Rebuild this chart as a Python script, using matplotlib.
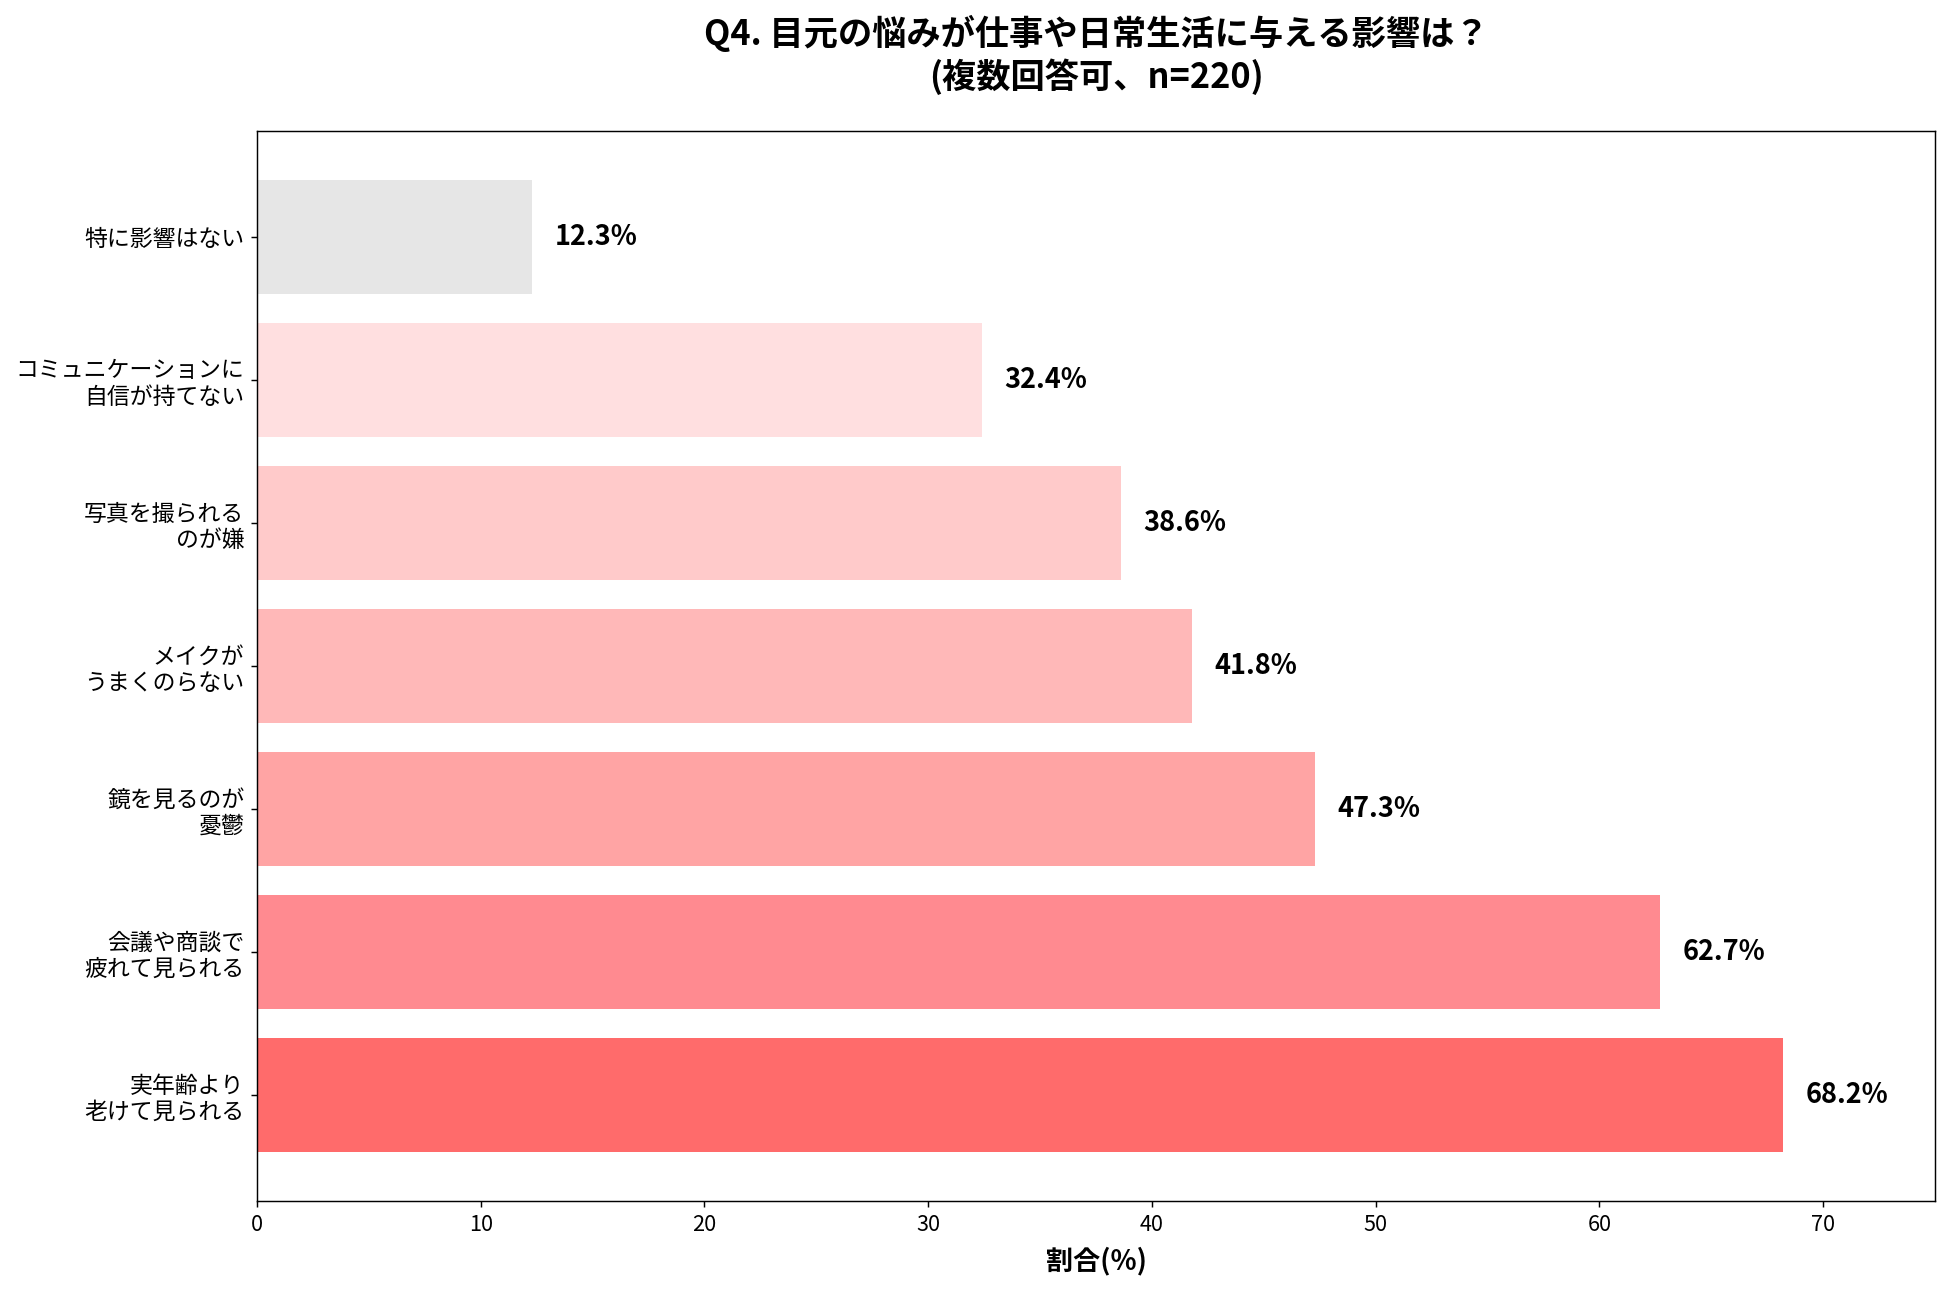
import matplotlib
matplotlib.use("Agg")
import matplotlib.pyplot as plt

plt.rcParams['font.family'] = ['Noto Sans CJK JP', 'DejaVu Sans']

categories = [
    "実年齢より\n老けて見られる",
    "会議や商談で\n疲れて見られる",
    "鏡を見るのが\n憂鬱",
    "メイクが\nうまくのらない",
    "写真を撮られる\nのが嫌",
    "コミュニケーションに\n自信が持てない",
    "特に影響はない",
]
values = [68.2, 62.7, 47.3, 41.8, 38.6, 32.4, 12.3]
colors = ["#FF6B6B", "#FF8A90", "#FFA4A4", "#FFB8B8", "#FFCACA", "#FFDFE0", "#E6E6E6"]

fig = plt.figure(figsize=(15, 1292/130), dpi=130)
ax = fig.add_axes([0.1318, 0.0704, 0.9923-0.1318, 0.8986-0.0704])

y = range(len(categories))
ax.barh(y, values, color=colors, height=0.8)
ax.set_yticks(list(y))
ax.set_yticklabels(categories, fontsize=12.7)
ax.tick_params(axis='x', labelsize=12)
for i, v in enumerate(values):
    ax.text(v + 1, i, f"{v}%", va='center', ha='left', fontsize=15, fontweight='bold')

ax.set_xlim(0, 75)
ax.set_xlabel("割合(%)", fontsize=15, fontweight='bold', labelpad=6)
ax.set_title("Q4. 目元の悩みが仕事や日常生活に与える影響は？\n(複数回答可、n=220)",
             fontsize=19, fontweight='bold', pad=24)

fig.savefig("out.png", dpi=130)
